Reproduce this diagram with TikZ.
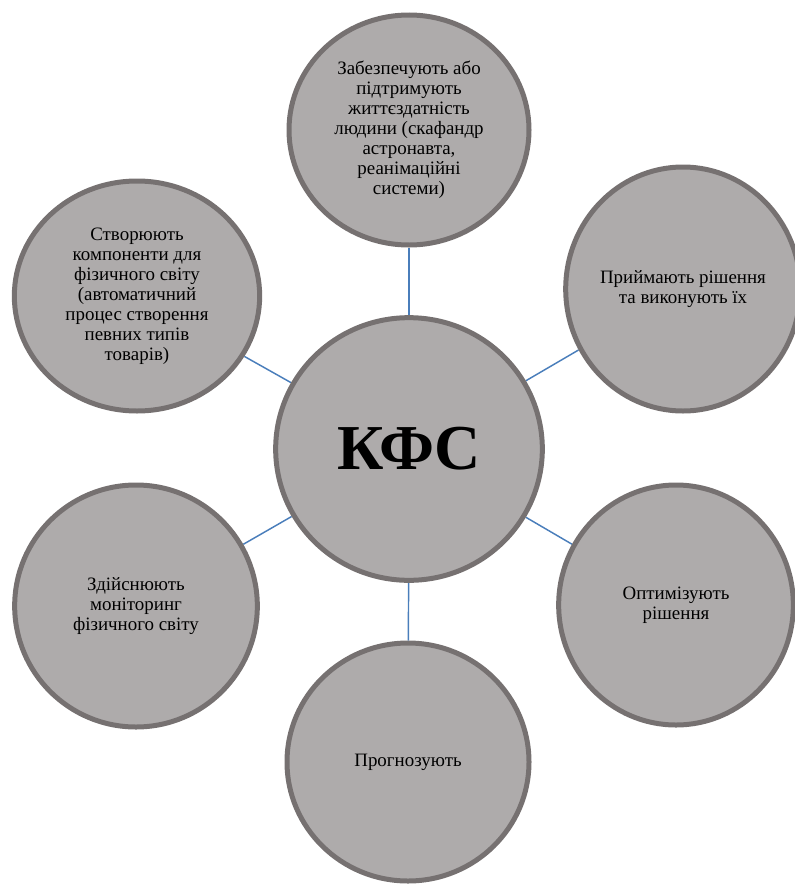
\documentclass[tikz,border=0pt]{standalone}
\usepackage{fontspec}
\setmainfont{Liberation Serif}
\usetikzlibrary{shapes.geometric, backgrounds}

\definecolor{bubfill}{HTML}{AEABAB}
\definecolor{bubline}{HTML}{767171}
\definecolor{linkblue}{HTML}{4A7EBB}

\begin{document}
\begin{tikzpicture}[x=0.75pt, y=-0.75pt,
  bub/.style={ellipse, draw=bubline, fill=bubfill, line width=3.75pt, inner sep=0pt, align=center, font=\fontsize{14.2}{15}\selectfont},
  link/.style={draw=linkblue, line width=1.1pt}]
  \useasboundingbox (0,0) rectangle (795,885);
  \node[bub, minimum width=200pt, minimum height=197pt, font=\fontsize{48}{50}\selectfont\bfseries] (kfs) at (409,449) {КФС};
  \node[bub, minimum width=180pt, minimum height=172.5pt] (top) at (409,130) {Забезпечують або\\підтримують\\життєздатність\\людини (скафандр\\астронавта,\\реанімаційні\\системи)};
  \node[bub, minimum width=184pt, minimum height=172.5pt] (tl) at (137,296) {Створюють\\компоненти для\\фізичного світу\\(автоматичний\\процес створення\\певних типів\\товарів)};
  \node[bub, minimum width=163.5pt, minimum height=183pt] (tr) at (683,289) {Приймають рішення\\та виконують їх};
  \node[bub, minimum width=176pt, minimum height=180pt] (br) at (676,605) {Оптимізують\\рішення};
  \node[bub, minimum width=181.5pt, minimum height=178.5pt] (bot) at (408,762) {Прогнозують};
  \node[bub, minimum width=182pt, minimum height=181.5pt] (bl) at (136,606) {Здійснюють\\моніторинг\\фізичного світу};
  \begin{scope}[on background layer]
    \draw[link] (kfs) -- (top);
    \draw[link] (kfs) -- (tl);
    \draw[link] (kfs) -- (tr);
    \draw[link] (kfs) -- (br);
    \draw[link] (kfs) -- (bot);
    \draw[link] (kfs) -- (bl);
  \end{scope}
\end{tikzpicture}
\end{document}
